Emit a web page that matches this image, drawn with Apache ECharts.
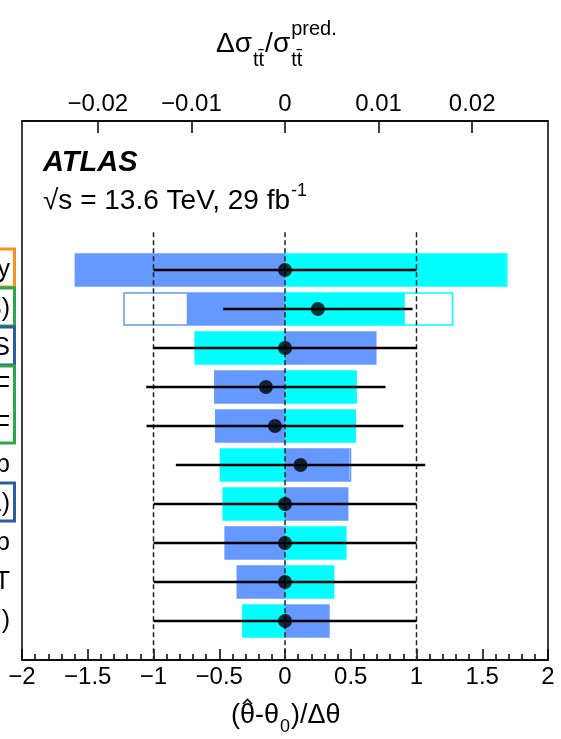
<!DOCTYPE html>
<html><head><meta charset="utf-8">
<script src="https://cdn.jsdelivr.net/npm/echarts@6/dist/echarts.min.js"></script>
<style>html,body{margin:0;padding:0;background:#fff}#c{width:561px;height:739px}</style>
</head><body><div id="c"></div>
<script>
// ---- data ----
const paramLabels = ['Luminosity', 'tt\u0304 parton shower (PS)', 'Muon ID SYS', 'tt\u0304 PDF', 'tW PDF',
  'b-tagging eff. b', 'Electron ID (TOTAL)', 'Flavour tagging b', 'JVT', 'Pile-up (\u03bc)'];
const rows = [0, 1, 2, 3, 4, 5, 6, 7, 8, 9];
// impact on sigma_tt / sigma_pred (top axis)
const postfitUp   = [-0.0224, -0.0105,  0.0097, -0.0075, -0.0074,  0.0069,  0.0067, -0.0064, -0.0051,  0.0047]; // blue
const postfitDown = [ 0.0236,  0.0128, -0.0096,  0.0076,  0.0075, -0.0069, -0.0066,  0.0065,  0.0052, -0.0045]; // cyan
const prefitUp    = [-0.0224, -0.0172,  0.0097, -0.0075, -0.0074,  0.0070,  0.0067, -0.0064, -0.0051,  0.0047];
const prefitDown  = [ 0.0237,  0.0179, -0.0096,  0.0076,  0.0075, -0.0069, -0.0066,  0.0065,  0.0052, -0.0045];
// pulls (bottom axis)
const pullValues = [0, 0.25, 0, -0.145, -0.076, 0.118, 0, 0, 0, 0];
const pullErrors = [1, 0.72, 1, 0.91, 0.977, 0.948, 1, 1, 1, 1];
const pullTickInterval = 0.5;
const impactTicks = [-0.02, -0.01, 0, 0.01, 0.02];
const refLines = [-1, 0, 1];
const boxGroups = [[0, 0, 0], [1, 1, 1], [2, 2, 2], [3, 4, 1], [6, 6, 2]]; // startRow, endRow, colorIdx
const boxColors = ['#f7911e', '#2aa847', '#2c5d9c'];

// ---- layout / style ----
const FONT = '"Liberation Sans", Arial, Helvetica, sans-serif';
const BLUE = '#6699ff', CYAN = '#00ffff';
const barHalf = 0.41;
const yMin = -3.82, yMax = 10, refTop = -0.97;
const impactMax = 0.0281;
const minus = v => (v < 0 ? '\u2212' : '') + String(Math.abs(Math.round(v * 1000) / 1000));

const mctx = document.createElement('canvas').getContext('2d');
function tw(text, size, extra) { mctx.font = (extra || '') + ' ' + size + 'px ' + FONT; return mctx.measureText(text).width; }
function txt(x, y, text, size, extra) {
  const st = { text, fontFamily: FONT, fontSize: size, fill: '#000', verticalAlign: 'middle', align: 'left' };
  if (extra && extra.bold) st.fontWeight = 'bold';
  if (extra && extra.italic) st.fontStyle = 'italic';
  return { type: 'text', x, y, style: st };
}

function impactRect(color, outline) {
  return function (params, api) {
    const v = api.value(0), row = api.value(1);
    const a = api.coord([0, row]), b = api.coord([v, row]);
    const h = api.size([0, 2 * barHalf])[1];
    return {
      type: 'rect',
      shape: { x: Math.min(a[0], b[0]), y: a[1] - h / 2, width: Math.abs(b[0] - a[0]), height: h },
      style: outline ? { fill: 'transparent', stroke: color, lineWidth: 1.5 } : { fill: color }
    };
  };
}
const mk = (arr) => rows.map(i => [arr[i], i]);

// ---- text layout (chained by measured widths) ----
const graphics = [];
graphics.push(txt(43, 163, 'ATLAS', 29, { bold: true, italic: true }));
const line2 = '\u221As = 13.6 TeV, 29 fb';
graphics.push(txt(43, 201, line2, 28));
graphics.push(txt(43 + tw(line2, 28) + 1, 191, '-1', 18));
// top title: Δσ_{tt̄}/σ_{tt̄}^{pred.}
const TM = 28, TS = 20;
let tx = 216;
graphics.push(txt(tx, 44, '\u0394\u03c3', TM)); tx += tw('\u0394\u03c3', TM) + 1;
graphics.push(txt(tx, 60, 'tt\u0304', TS)); tx += tw('tt', TS) + 1;
graphics.push(txt(tx, 44, '/\u03c3', TM)); tx += tw('/\u03c3', TM) + 1;
graphics.push(txt(tx, 60, 'tt\u0304', TS));
graphics.push(txt(tx, 29, 'pred.', TS));
// bottom title: (θ̂-θ_0)/Δθ
const BM = 27, BS = 18;
let bx = 231;
const thx = bx + tw('(', BM), thw = tw('\u03b8', BM);
graphics.push(txt(bx, 716, '(\u03b8-\u03b8', BM)); bx += tw('(\u03b8-\u03b8', BM) + 1;
graphics.push({ type: 'polyline', shape: { points: [[thx + thw / 2 - 4.5, 704], [thx + thw / 2, 699.5], [thx + thw / 2 + 4.5, 704]] },
  style: { stroke: '#000', lineWidth: 1.6, fill: null } });
graphics.push(txt(bx, 727, '0', BS)); bx += tw('0', BS) + 1;
graphics.push(txt(bx, 716, ')/\u0394\u03b8', BM));

const chart = echarts.init(document.getElementById('c'));
const option = {
  backgroundColor: '#fff',
  animation: false,
  textStyle: { fontFamily: FONT },
  grid: { left: 22, right: 13, top: 121, bottom: 79, containLabel: false, outerBoundsMode: 'none',
    show: true, borderColor: '#000', borderWidth: 1.5, backgroundColor: 'transparent' },
  xAxis: [
    {
      type: 'value', position: 'bottom', min: -2, max: 2, interval: pullTickInterval,
      axisLine: { show: true, onZero: false, lineStyle: { color: '#000', width: 1.5 } },
      axisTick: { show: true, inside: true, length: 11, lineStyle: { color: '#000', width: 1.5 } },
      minorTick: { show: true, splitNumber: 5, length: 6, lineStyle: { color: '#000', width: 1.5 } },
      axisLabel: { fontSize: 24, color: '#000', margin: 5, fontFamily: FONT, showMinLabel: true, showMaxLabel: true, formatter: minus },
      splitLine: { show: false }
    },
    {
      type: 'value', position: 'top', min: -impactMax, max: impactMax,
      axisLine: { show: true, onZero: false, lineStyle: { color: '#000', width: 1.5 } },
      axisTick: { show: true, inside: true, length: 12, customValues: impactTicks, lineStyle: { color: '#000', width: 1.5 } },
      axisLabel: { fontSize: 24, color: '#000', margin: 5, fontFamily: FONT, customValues: impactTicks, formatter: minus },
      splitLine: { show: false }
    }
  ],
  yAxis: {
    type: 'value', inverse: true, min: yMin, max: yMax, position: 'left',
    axisLine: { show: false, onZero: false }, axisTick: { show: false }, splitLine: { show: false },
    axisLabel: { customValues: rows, fontSize: 25, color: '#000', margin: 12, fontFamily: FONT,
      formatter: v => paramLabels[v] || '' }
  },
  series: [
    { type: 'custom', name: 'prefit up', xAxisIndex: 1, z: 2, encode: { x: 0, y: 1 }, data: mk(prefitUp), renderItem: impactRect(BLUE, true) },
    { type: 'custom', name: 'prefit down', xAxisIndex: 1, z: 2, encode: { x: 0, y: 1 }, data: mk(prefitDown), renderItem: impactRect(CYAN, true) },
    { type: 'custom', name: 'postfit up', xAxisIndex: 1, z: 3, encode: { x: 0, y: 1 }, data: mk(postfitUp), renderItem: impactRect(BLUE, false) },
    { type: 'custom', name: 'postfit down', xAxisIndex: 1, z: 3, encode: { x: 0, y: 1 }, data: mk(postfitDown), renderItem: impactRect(CYAN, false) },
    { type: 'custom', name: 'ref', xAxisIndex: 0, z: 4, encode: { x: 0, y: 1 }, data: refLines.map(x => [x, refTop]),
      renderItem(p, api) {
        const x = api.value(0);
        const a = api.coord([x, refTop]), b = api.coord([x, yMax]);
        return { type: 'line', shape: { x1: a[0], y1: a[1], x2: b[0], y2: b[1] }, style: { stroke: '#222', lineWidth: 1.5, lineDash: [5, 3] } };
      } },
    { type: 'custom', name: 'pull err', xAxisIndex: 0, z: 5, encode: { x: 0, y: 1 }, data: rows.map(i => [pullValues[i], i, pullErrors[i]]),
      renderItem(p, api) {
        const v = api.value(0), row = api.value(1), e = api.value(2);
        const a = api.coord([v - e, row]), b = api.coord([v + e, row]);
        return { type: 'line', shape: { x1: a[0], y1: a[1], x2: b[0], y2: b[1] }, style: { stroke: '#000', lineWidth: 2.5 } };
      } },
    { type: 'scatter', name: 'pull', xAxisIndex: 0, z: 6, symbol: 'circle', symbolSize: 14, itemStyle: { color: '#000' }, data: mk(pullValues) },
    { type: 'custom', name: 'boxes', xAxisIndex: 0, z: 7, silent: true, clip: false, encode: { x: 0, y: 1 },
      data: boxGroups.map(g => [0, g[0], g[1], g[2]]),
      renderItem(p, api) {
        const s = api.value(1), e = api.value(2), c = boxColors[api.value(3)];
        const top = api.coord([0, s])[1] - 21, bot = api.coord([0, e])[1] + 17;
        return { type: 'rect', shape: { x: -30, y: top, width: 44.5, height: bot - top }, style: { fill: 'transparent', stroke: c, lineWidth: 3 } };
      } }
  ],
  graphic: graphics
};
chart.setOption(option);
</script></body></html>
